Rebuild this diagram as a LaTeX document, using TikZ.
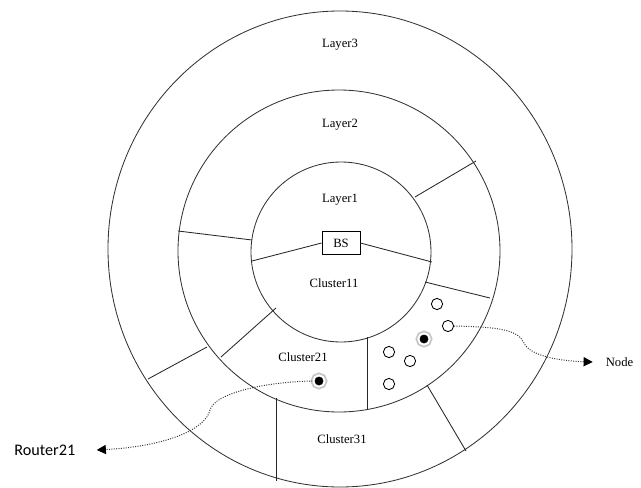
\documentclass[tikz,border=0pt]{standalone}
\usepackage{fontspec}
\setmainfont{Liberation Serif}
\newfontfamily\timesfont{Liberation Serif}
\newfontfamily\calibfont{Carlito}
\usetikzlibrary{arrows.meta,positioning}

\begin{document}
\begin{tikzpicture}[x=0.025cm,y=-0.025cm,semithick,
		ring/.style={draw=black!80,line width=0.6pt},
		cut/.style={draw=black!85,line width=0.6pt},
		txt/.style={font=\timesfont\fontsize{9}{11}\selectfont,inner sep=1pt},
		sensor/.style={circle,draw,line width=0.6pt,fill=white,inner sep=0pt,minimum size=8pt},
		router/.style={circle,fill=black,draw=white,line width=1.4pt,inner sep=0pt,minimum size=8pt,
			preaction={draw=black!22,line width=4pt}},
		link/.style={densely dotted,draw=black!80,line width=0.7pt,-{Triangle[length=6.5pt,width=6.5pt,black]}}]
		\useasboundingbox (0,0) rectangle (641,488);

		% the three layers
		\draw[ring] (340,249) ellipse [x radius=232,y radius=238];
		\draw[ring] (339,251) circle [radius=161];
		\draw[ring] (341,252) circle [radius=90];

		\node[draw,line width=0.6pt,minimum width=27pt,minimum height=16pt,txt,inner sep=0pt] (bs) at (341,243) {BS};

		% cluster borders
		\draw[cut] (bs.west) -- (252,261);
		\draw[cut] (bs.east) -- (432,262);
		\draw[cut] (415,197) -- (476,161);
		\draw[cut] (252,240) -- (178,231);
		\draw[cut] (425,282) -- (490,298);
		\draw[cut] (276,308) -- (221,357);
		\draw[cut] (367,337) -- (367,410);
		\draw[cut] (207,347) -- (148,379);
		\draw[cut] (276,398) -- (276,481);
		\draw[cut] (427,385) -- (466,451);

		\node[txt] (l3) at (340,45) {Layer3};
		\node[txt] (l2) at (340,125) {Layer2};
		\node[txt] (l1) at (340,200) {Layer1};
		\node[txt] (c11) at (334,283) {Cluster11};
		\node[txt] (c21) at (303,357) {Cluster21};
		\node[txt] (c31) at (342,439) {Cluster31};

		% sensor nodes
		\node[sensor] (n1) at (437,304) {};
		\node[sensor] (n2) at (448,326) {};
		\node[sensor] (n3) at (389,352) {};
		\node[sensor] (n4) at (410,361) {};
		\node[sensor] (n5) at (389,384) {};
		\node[router] (r2) at (424,339) {};
		\node[router] (r21) at (319,381) {};

		\node[font=\calibfont\fontsize{11.5}{13}\selectfont,anchor=west,inner sep=0pt] (rname) at (14,450) {Router21};
		\node[txt,anchor=west] (nname) at (604,362) {Node};

		\draw[link] (r21.west) .. controls (262,382) and (214,394) .. (210,410)
			.. controls (206,428) and (170,446) .. ([xshift=15pt]rname.east);
		\draw[link] (n2.east) .. controls (500,327) and (518,330) .. (524,343)
			.. controls (530,356) and (560,361) .. ([xshift=-8pt]nname.west);
	\end{tikzpicture}
\end{document}
